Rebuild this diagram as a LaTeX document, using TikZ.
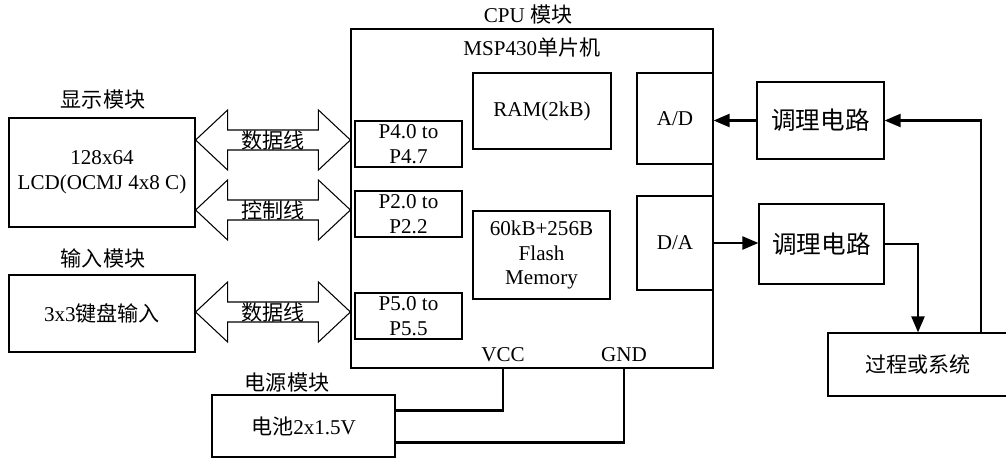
\documentclass[tikz,border=0pt]{standalone}
\usepackage{fontspec}
\setmainfont{Liberation Serif}
\newfontfamily\cjk{Noto Sans CJK SC}
\usetikzlibrary{arrows.meta,calc}
\begin{document}
\begin{tikzpicture}[x=0.02cm,y=-0.02cm,
  font=\fontsize{12}{14}\selectfont,
  box/.style={draw,line width=0.7pt,align=center,inner sep=0pt},
  bus/.style={draw,line width=0.6pt},
  conn/.style={line width=1.3pt,-{Triangle[length=3.2mm,width=2.6mm]}},
  wire/.style={line width=1.3pt}]
\useasboundingbox (0,0) rectangle (1006,460);
\node[box,minimum width=7.24cm,minimum height=6.78cm] (cpu) at (532,198.5) {};
\node (cputitle) at (528,15) {CPU {\cjk 模块}};
\node (mcu) at (532,48) {MSP430{\cjk 单片机}};
\node[box,minimum width=2.76cm,minimum height=1.52cm] (ram) at (542,111) {RAM(2kB)};
\node[box,minimum width=2.74cm,minimum height=1.76cm] (flash) at (541.5,255) {60kB+256B\\Flash\\Memory};
\node[box,minimum width=2.14cm,minimum height=0.92cm] (p4) at (408.5,144) {P4.0 to\\P4.7};
\node[box,minimum width=2.14cm,minimum height=0.92cm] (p2) at (408.5,214) {P2.0 to\\P2.2};
\node[box,minimum width=2.14cm,minimum height=0.92cm] (p5) at (408.5,316) {P5.0 to\\P5.5};
\node[box,minimum width=1.52cm,minimum height=1.82cm] (ad) at (675,118.5) {A/D};
\node[box,minimum width=1.52cm,minimum height=1.88cm] (da) at (675,243) {D/A};
\node (vcc) at (503,355) {VCC};
\node (gnd) at (624,355) {GND};

\node (disp) at (103,100) {\cjk 显示模块};
\node[box,minimum width=3.72cm,minimum height=2.18cm] (lcd) at (102,172.5) {128x64\\LCD(OCMJ 4x8 C)};
\node (inp) at (103,258) {\cjk 输入模块};
\node[box,minimum width=3.72cm,minimum height=1.54cm] (kbd) at (102,313.5) {3x3{\cjk 键盘输入}};
\node (pwr) at (287,382) {\cjk 电源模块};
\node[box,minimum width=3.66cm,minimum height=1.24cm] (bat) at (303.5,426) {{\cjk 电池}2x1.5V};

\node[box,minimum width=2.54cm,minimum height=1.54cm,font=\fontsize{14}{16}\selectfont] (cond1) at (820.5,120.5) {\cjk 调理电路};
\node[box,minimum width=2.5cm,minimum height=1.6cm,font=\fontsize{14}{16}\selectfont] (cond2) at (821.5,244) {\cjk 调理电路};
\node[box,minimum width=3.6cm,minimum height=1.26cm] (proc) at (918,364.5) {\cjk 过程或系统};

\foreach \src/\dst/\txt in {lcd/p4/数据线,lcd/p2/控制线,kbd/p5/数据线}{
  \coordinate (l) at ($(\src.east |- \dst.west)+(0,-4)$);
  \coordinate (r) at ($(cpu.west |- \dst.west)+(0,-4)$);
  \draw[bus] (l) -- ++(32,-30) -- ++(0,20) -- ($(r)+(-32,-10)$) -- ++(0,-20) -- (r)
    -- ++(-32,30) -- ++(0,-20) -- ($(l)+(32,10)$) -- ++(0,20) -- cycle;
  \node at ($(l)!0.5!(r)$) {\cjk \txt};
}

\draw[conn] (cond1.west) -- (cond1.west -| ad.east);
\draw[conn] (da.east) -- (da.east -| cond2.west);
\draw[conn] (cond2.east) -| (proc.north);
\draw[conn] ($(proc.north)+(63,0)$) |- (cond1.east);
\draw[wire] ($(bat.north east)+(0,16)$) -| (cpu.south -| vcc);
\draw[wire] ($(bat.south east)+(0,-15)$) -| (cpu.south -| gnd);
\end{tikzpicture}
\end{document}
